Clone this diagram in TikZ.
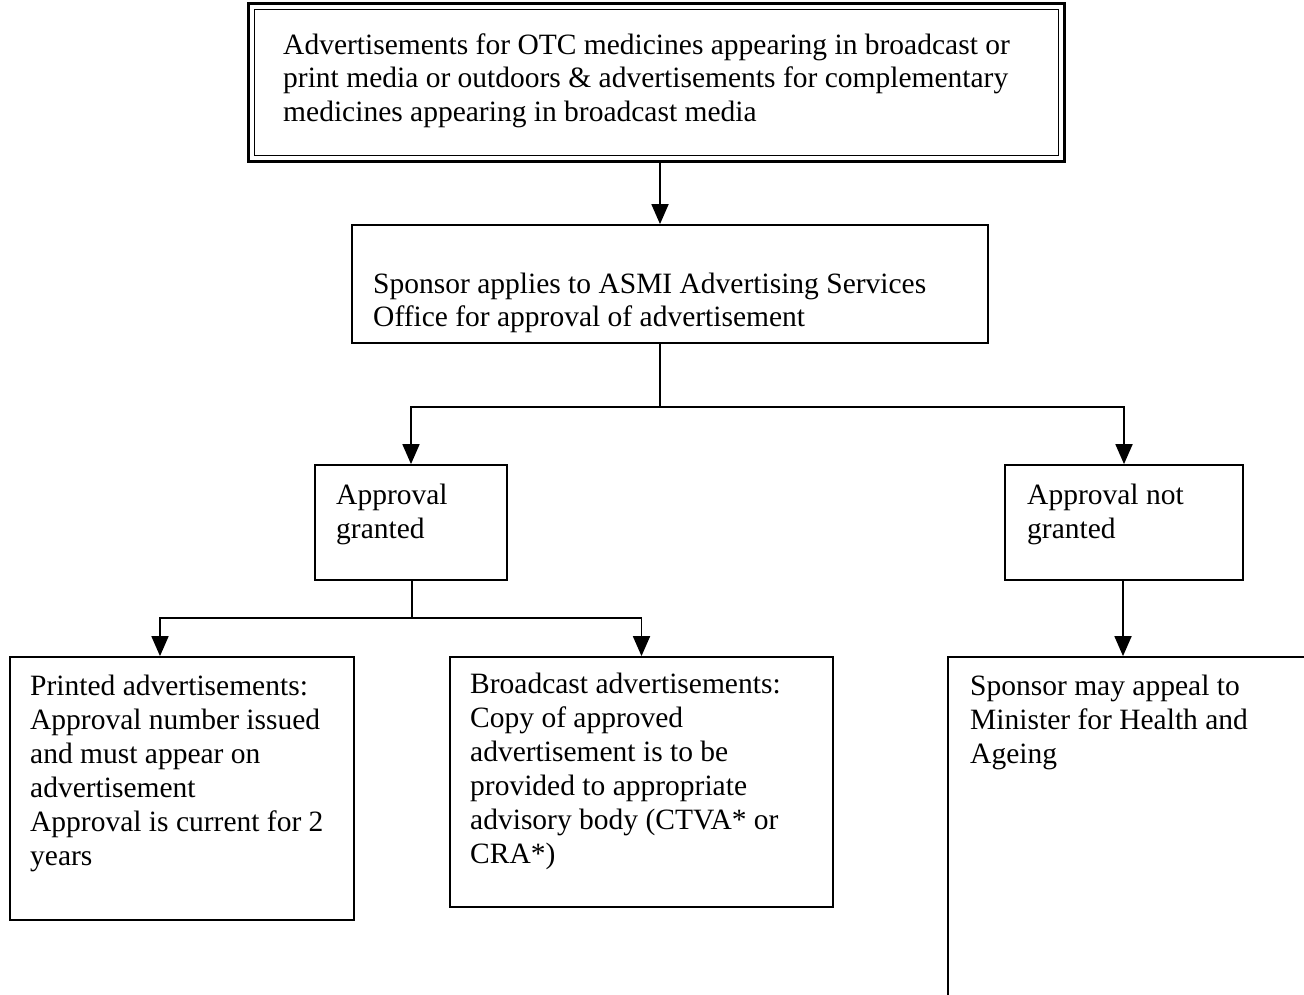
\documentclass[tikz,border=0pt]{standalone}
\usepackage{fontspec}
\setmainfont{Liberation Serif}
\usetikzlibrary{arrows.meta}
\begin{document}
\begin{tikzpicture}[x=1pt,y=-1pt,
  box/.style={draw=black, line width=1.8pt, rectangle, inner sep=0pt},
  txt/.style={anchor=base west, align=left, inner sep=0pt, font=\fontsize{29.5}{34}\selectfont},
  ctxt/.style={txt, font=\fontsize{29.5}{33.5}\selectfont},
  conn/.style={draw=black, line width=1.8pt},
  arr/.style={conn, -{Triangle[width=17pt,length=20pt]}}]
\useasboundingbox (0,0) rectangle (1304,994);
\clip (0,0) rectangle (1304,994);
% top box with double border
\node[box, line width=3pt, minimum width=816pt, minimum height=158pt] (b1) at (656.5,82.5) {};
\node[box, line width=1.2pt, minimum width=804pt, minimum height=146pt] (b1in) at (656.5,82.5) {};
\node[ctxt] (t1) at (283,121) {Advertisements for OTC medicines appearing in broadcast or\\print media or outdoors \& advertisements for complementary\\medicines appearing in broadcast media};
% second box
\node[box, minimum width=636pt, minimum height=118pt] (b2) at (670,284) {};
\node[ctxt] (t2) at (373,326.5) {Sponsor applies to ASMI Advertising Services\\Office for approval of advertisement};
% approval boxes
\node[box, minimum width=192pt, minimum height=115pt] (b3) at (411,522.5) {};
\node[txt] (t3) at (336,538) {Approval\\granted};
\node[box, minimum width=238pt, minimum height=115pt] (b4) at (1124,522.5) {};
\node[txt] (t4) at (1027,538) {Approval not\\granted};
% bottom boxes
\node[box, minimum width=344pt, minimum height=263pt] (b5) at (182,788.5) {};
\node[txt] (t5) at (30,865) {Printed advertisements:\\Approval number issued\\and must appear on\\advertisement\\Approval is current for 2\\years};
\node[box, minimum width=383pt, minimum height=250pt] (b6) at (641.5,782) {};
\node[txt] (t6) at (470,863) {Broadcast advertisements:\\Copy of approved\\advertisement is to be\\provided to appropriate\\advisory body (CTVA* or\\CRA*)};
\node[box, minimum width=420pt, minimum height=420pt] (b7) at (1158,867) {};
\node[txt] (t7) at (970,763) {Sponsor may appeal to\\Minister for Health and\\Ageing};
% connectors
\coordinate (x660) at (660,0);
\coordinate (s1) at (660,407);
\coordinate (s2) at (412,618);
\coordinate (x160) at (160,0);
\coordinate (x1123) at (1123,0);
\draw[arr] (b1.south -| x660) -- (b2.north -| x660);
\draw[conn] (b2.south -| x660) -- (s1);
\draw[arr] (s1) -| (b3.north);
\draw[arr] (s1) -| (b4.north);
\draw[conn] (b3.south -| s2) -- (s2);
\draw[arr] (s2) -| (b5.north -| x160);
\draw[arr] (s2) -| (b6.north);
\draw[arr] (b4.south -| x1123) -- (b7.north -| x1123);
\end{tikzpicture}
\end{document}
